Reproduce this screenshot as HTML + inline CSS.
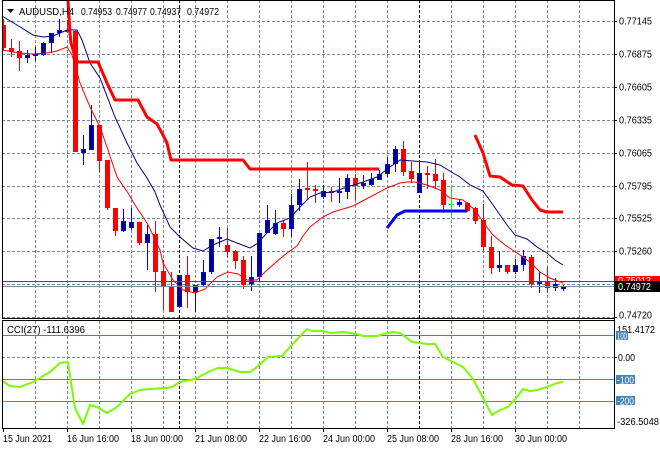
<!DOCTYPE html>
<html><head><meta charset="utf-8"><style>
html,body{margin:0;padding:0;background:#fff;}
svg{display:block;}
text{font-family:"Liberation Sans",sans-serif;font-size:10px;fill:#000;}
</style></head><body>
<svg width="660" height="450" viewBox="0 0 660 450" xmlns="http://www.w3.org/2000/svg">
<rect x="0" y="0" width="660" height="450" fill="#fff"/>
<!-- grid -->
<g stroke="#778899" stroke-width="1" stroke-dasharray="3,2" shape-rendering="crispEdges" fill="none">
<path d="M2,21.5H614M2,54.5H614M2,87.5H614M2,120.5H614M2,153.5H614M2,186.5H614M2,218.5H614M2,251.5H614M2,284.5H614M2,317.5H614"/>
<path d="M2,357.5H614"/>
<path d="M35.5,0V318M67.5,0V318M99.5,0V318M131.5,0V318M163.5,0V318M195.5,0V318M227.5,0V318M259.5,0V318M291.5,0V318M323.5,0V318M355.5,0V318M387.5,0V318M451.5,0V318M483.5,0V318M515.5,0V318M547.5,0V318M579.5,0V318"/>
<path d="M35.5,321V428M67.5,321V428M99.5,321V428M131.5,321V428M163.5,321V428M195.5,321V428M227.5,321V428M259.5,321V428M291.5,321V428M323.5,321V428M355.5,321V428M387.5,321V428M451.5,321V428M483.5,321V428M515.5,321V428M547.5,321V428M579.5,321V428"/>
</g>
<g stroke="#000" stroke-width="1" stroke-dasharray="3,2" shape-rendering="crispEdges">
<path d="M179.5,0V318M419.5,0V318M179.5,321V428M419.5,321V428"/>
</g>
<!-- CCI levels -->
<g stroke="#4682B4" stroke-width="1" shape-rendering="crispEdges">
<path d="M2,335.5H614M2,379.5H614M2,401.5H614"/>
</g>
<!-- candles -->
<g shape-rendering="crispEdges">
<path fill="none" stroke="#FF0000" stroke-width="1" d="M3.5,19V50M11.5,39V57M19.5,41V71M67.5,20V33M75.5,30V152M99.5,125V172M107.5,160V210M115.5,208V236M139.5,222V245M155.5,221V292M163.5,260V310M171.5,272V312M187.5,256V308M227.5,228V257M235.5,250V269M243.5,256V289M283.5,220V237M307.5,162V200M315.5,185V203M331.5,187V202M355.5,174V200M403.5,141V176M411.5,162V183M427.5,166V189M435.5,159V189M443.5,173V213M467.5,202V212M475.5,207V224M483.5,204V251M491.5,236V274M507.5,265V274M531.5,255V288M547.5,267V293"/>
<path fill="#FF0000" d="M2,25h4v23h-4zM9,48h5v4h-5zM17,51h5v7h-5zM65,30h5v2h-5zM73,31h5v121h-5zM97,125h5v36h-5zM105,160h5v48h-5zM113,208h5v23h-5zM137,222h5v21h-5zM153,234h5v38h-5zM161,271h5v16h-5zM169,287h5v25h-5zM185,275h5v17h-5zM225,245h5v7h-5zM233,251h5v10h-5zM241,260h5v25h-5zM281,223h5v6h-5zM305,188h5v2h-5zM313,189h5v2h-5zM329,191h5v2h-5zM353,178h5v8h-5zM401,149h5v23h-5zM409,171h5v8h-5zM425,173h5v2h-5zM433,174h5v7h-5zM441,180h5v25h-5zM465,203h5v8h-5zM473,208h5v13h-5zM481,220h5v27h-5zM489,247h5v21h-5zM505,265h5v7h-5zM529,257h5v27h-5zM545,282h5v6h-5z"/>
<path fill="none" stroke="#0000FF" stroke-width="1" d="M27.5,50V63M35.5,47V61M43.5,42V56M51.5,33V53M59.5,19V37M83.5,135V165M91.5,105V150M123.5,209V232M131.5,208V230M147.5,225V270M179.5,275V307M195.5,285V312M203.5,260V287M211.5,239V274M219.5,227V247M251.5,256V291M259.5,233V282M267.5,205V233M275.5,210V235M291.5,194V237M299.5,179V211M323.5,185V199M339.5,178V203M347.5,174V199M363.5,175V189M371.5,173V186M379.5,170V180M387.5,157V177M395.5,146V172M419.5,162V193M459.5,199V207M499.5,251V272M515.5,259V274M523.5,250V271M539.5,272V293M555.5,278V291M563.5,285V291"/>
<path fill="#0000FF" d="M25,55h5v3h-5zM33,54h5v2h-5zM41,43h5v12h-5zM49,33h5v10h-5zM57,30h5v3h-5zM81,149h5v4h-5zM89,125h5v25h-5zM121,221h5v10h-5zM129,222h5v6h-5zM145,234h5v9h-5zM177,275h5v32h-5zM193,285h5v7h-5zM201,272h5v13h-5zM209,239h5v33h-5zM217,237h5v2h-5zM249,277h5v7h-5zM257,233h5v44h-5zM265,220h5v13h-5zM273,223h5v11h-5zM289,205h5v24h-5zM297,189h5v16h-5zM321,191h5v6h-5zM337,191h5v2h-5zM345,178h5v14h-5zM361,183h5v3h-5zM369,179h5v6h-5zM377,174h5v6h-5zM385,164h5v10h-5zM393,149h5v15h-5zM417,173h5v20h-5zM457,202h5v3h-5zM497,265h5v3h-5zM513,265h5v7h-5zM521,256h5v9h-5zM537,282h5v2h-5zM553,284h5v4h-5zM561,286h5v3h-5z"/>
<path fill="#000080" d="M26,56h3v1h-3zM42,44h3v10h-3zM50,34h3v8h-3zM58,31h3v1h-3zM82,150h3v2h-3zM90,126h3v23h-3zM122,222h3v8h-3zM130,223h3v4h-3zM146,235h3v7h-3zM178,276h3v30h-3zM194,286h3v5h-3zM202,273h3v11h-3zM210,240h3v31h-3zM250,278h3v5h-3zM258,234h3v42h-3zM266,221h3v11h-3zM274,224h3v9h-3zM290,206h3v22h-3zM298,190h3v14h-3zM322,192h3v4h-3zM346,179h3v12h-3zM362,184h3v1h-3zM370,180h3v4h-3zM378,175h3v4h-3zM386,165h3v8h-3zM394,150h3v13h-3zM418,174h3v18h-3zM458,203h3v1h-3zM498,266h3v1h-3zM514,266h3v5h-3zM522,257h3v7h-3zM554,285h3v2h-3zM562,287h3v1h-3z"/>
<path fill="none" stroke="#00FF00" stroke-width="1" d="M451.5,186V217M449,204.5h5"/>
</g>
<!-- moving averages -->
<polyline fill="none" stroke="#000080" stroke-width="1" points="2,16 17,25 33,35 43,37 53,36 67,30 77,30 82,40 90,63 100,78 115,117 127,143 137,163 147,178 155,192 160,205 170,227 180,237 193,248 203,251 213,245 227,239 237,243 250,248 258,243 265,235 277,223 290,218 300,207 310,197 320,193 333,192 347,187 363,182 377,177 390,167 400,160 413,161 427,162 440,165 453,173 460,177 470,185 483,191 493,205 507,225 515,235 527,239 537,247 547,253 555,260 563,265"/>
<polyline fill="none" stroke="#FF0000" stroke-width="1" points="2,50 20,53 33,54 47,53 57,51 67,47 72,55 80,83 90,107 100,127 107,147 117,177 128,193 137,208 147,223 153,235 160,250 163,263 173,280 183,290 195,293 205,289 217,277 228,272 238,274 247,280 257,280 265,272 275,263 287,253 297,246 303,236 310,227 323,217 333,212 353,206 370,197 387,188 400,183 407,182 415,182 427,185 440,190 450,198 463,200 475,210 483,222 493,235 505,245 517,253 530,262 540,272 550,278 563,283"/>
<!-- stop lines -->
<polyline fill="none" stroke="#FF0000" stroke-width="3" stroke-linejoin="round" points="68,0 70,33 71,43 76,60 78,62 98,62 107,83 115,100 138,100 147,117 157,124 163,135 167,143 171,160 243,160 250,169 379,169"/>
<polyline fill="none" stroke="#FF0000" stroke-width="3" stroke-linejoin="round" points="475,135 483,153 490,176 500,177 512,185 523,186 532,200 540,210 547,212 563,212"/>
<polyline fill="none" stroke="#0000FF" stroke-width="3" stroke-linejoin="round" points="387,228 397,215 405,211 467,211"/>
<!-- bid/ask -->
<g shape-rendering="crispEdges">
<path stroke="#FF0000" stroke-width="1" d="M2,281.5H614"/>
<path stroke="#778899" stroke-width="1" d="M2,286.5H614"/>
</g>
<!-- CCI line -->
<polyline fill="none" stroke="#7CFC00" stroke-width="2" stroke-linejoin="round" points="2,381 10,386 20,387 33,382 50,372 60,363 67,362 68,363 75,408 83,424 90,405 97,407 107,413 117,407 130,394 140,390 150,389 167,388 172,387 180,382 195,379 210,371 218,368 227,368 240,372 250,372 257,367 268,357 282,356 290,347 307,329 312,331 323,331 330,333 343,332 350,333 357,334 363,336 378,336 383,334 393,332 400,333 412,342 420,343 427,344 435,344 443,357 453,362 463,367 473,379 483,398 492,415 500,410 508,407 517,397 523,389 530,391 537,390 547,387 557,383 563,382"/>
<!-- frames -->
<g stroke="#000" stroke-width="1" fill="none" shape-rendering="crispEdges">
<path d="M2,0.5H614.5M2.5,0V318.5M2,318.5H614M614.5,0V429M2,320.5H614M2.5,320V428.5M2,428.5H614.5"/>
<path d="M614,21.5h3M614,54.5h3M614,87.5h3M614,120.5h3M614,153.5h3M614,186.5h3M614,218.5h3M614,251.5h3M614,317.5h3M614,357.5h3"/>
<path d="M3.5,428v4M67.5,428v4M131.5,428v4M195.5,428v4M259.5,428v4M323.5,428v4M387.5,428v4M451.5,428v4M515.5,428v4"/>
</g>
<!-- title -->
<path d="M7,9h7l-3.5,4z" fill="#000"/>
<text x="19" y="15" textLength="55" lengthAdjust="spacingAndGlyphs">AUDUSD,H4</text>
<text x="81" y="15" textLength="31" lengthAdjust="spacingAndGlyphs">0.74953</text>
<text x="116" y="15" textLength="31" lengthAdjust="spacingAndGlyphs">0.74977</text>
<text x="150" y="15" textLength="31" lengthAdjust="spacingAndGlyphs">0.74937</text>
<text x="187" y="15" textLength="32" lengthAdjust="spacingAndGlyphs">0.74972</text>
<text x="7" y="333" textLength="78" lengthAdjust="spacingAndGlyphs">CCI(27) -111.6396</text>
<!-- price axis -->
<g>
<text x="619" y="24.5" textLength="33" lengthAdjust="spacingAndGlyphs">0.77145</text>
<text x="619" y="57.5" textLength="33" lengthAdjust="spacingAndGlyphs">0.76875</text>
<text x="619" y="90.5" textLength="33" lengthAdjust="spacingAndGlyphs">0.76605</text>
<text x="619" y="123.5" textLength="33" lengthAdjust="spacingAndGlyphs">0.76335</text>
<text x="619" y="156.5" textLength="33" lengthAdjust="spacingAndGlyphs">0.76065</text>
<text x="619" y="189.5" textLength="33" lengthAdjust="spacingAndGlyphs">0.75795</text>
<text x="619" y="221.5" textLength="33" lengthAdjust="spacingAndGlyphs">0.75525</text>
<text x="619" y="254.5" textLength="33" lengthAdjust="spacingAndGlyphs">0.75260</text>
<text x="619" y="318.5" textLength="33" lengthAdjust="spacingAndGlyphs">0.74720</text>
</g>
<rect x="615" y="276" width="45" height="10" fill="#FF0000"/>
<text x="618" y="284" textLength="33" lengthAdjust="spacingAndGlyphs" style="fill:#fff">0.75013</text>
<rect x="615" y="281" width="45" height="11" fill="#000"/>
<text x="618" y="290" textLength="33" lengthAdjust="spacingAndGlyphs" style="fill:#fff">0.74972</text>
<!-- CCI axis -->
<text x="617" y="333" textLength="38" lengthAdjust="spacingAndGlyphs">151.4172</text>
<rect x="616" y="331" width="12" height="9" fill="#4682B4"/>
<text x="617" y="339.5" textLength="10" lengthAdjust="spacingAndGlyphs" style="fill:#fff">100</text>
<text x="618" y="361" textLength="17" lengthAdjust="spacingAndGlyphs">0.00</text>
<rect x="616" y="375" width="19" height="9" fill="#4682B4"/>
<text x="617" y="383.5" textLength="17" lengthAdjust="spacingAndGlyphs" style="fill:#fff">-100</text>
<rect x="616" y="396" width="19" height="9" fill="#4682B4"/>
<text x="617" y="404.5" textLength="17" lengthAdjust="spacingAndGlyphs" style="fill:#fff">-200</text>
<text x="617" y="425" textLength="42" lengthAdjust="spacingAndGlyphs">-326.5048</text>
<!-- time axis -->
<g>
<text x="3" y="442" textLength="49" lengthAdjust="spacingAndGlyphs">15 Jun 2021</text>
<text x="67" y="442" textLength="52" lengthAdjust="spacingAndGlyphs">16 Jun 16:00</text>
<text x="131" y="442" textLength="52" lengthAdjust="spacingAndGlyphs">18 Jun 00:00</text>
<text x="195" y="442" textLength="52" lengthAdjust="spacingAndGlyphs">21 Jun 08:00</text>
<text x="259" y="442" textLength="52" lengthAdjust="spacingAndGlyphs">22 Jun 16:00</text>
<text x="323" y="442" textLength="52" lengthAdjust="spacingAndGlyphs">24 Jun 00:00</text>
<text x="387" y="442" textLength="52" lengthAdjust="spacingAndGlyphs">25 Jun 08:00</text>
<text x="451" y="442" textLength="52" lengthAdjust="spacingAndGlyphs">28 Jun 16:00</text>
<text x="515" y="442" textLength="52" lengthAdjust="spacingAndGlyphs">30 Jun 00:00</text>
</g>
</svg>
</body></html>
